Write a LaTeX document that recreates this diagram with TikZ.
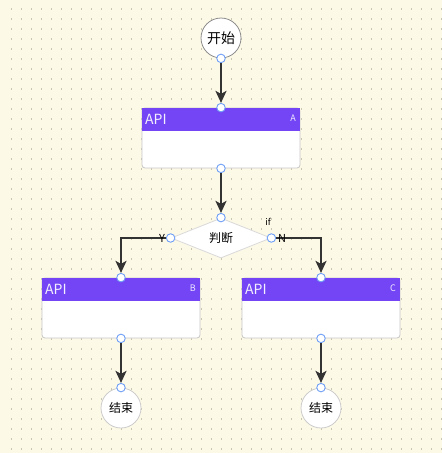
\documentclass[tikz,border=0pt]{standalone}
\usepackage{fontspec}
\setmainfont{Noto Sans CJK SC}
\usetikzlibrary{arrows.meta}
\usetikzlibrary{shapes.geometric}
\definecolor{paper}{HTML}{FDF9E7}
\definecolor{griddot}{HTML}{C9C6B4}
\definecolor{apiviolet}{HTML}{7445F5}
\definecolor{portblue}{HTML}{6C9EF6}
\definecolor{flowline}{HTML}{333333}
\tikzset{
    port/.style={circle, draw=portblue, fill=white, line width=0.9pt, minimum size=8.5pt, inner sep=0pt},
    apibox/.style={rectangle, rounded corners=3pt, draw=black!22, fill=white, line width=0.8pt, minimum width=158pt, minimum height=60pt},
    apititle/.style={text=white!92!apiviolet, font=\fontsize{14}{14}\selectfont, anchor=west},
    apitag/.style={text=white!88!apiviolet, font=\fontsize{9}{9}\selectfont, anchor=east},
    endcircle/.style={circle, draw=black!20, fill=white, line width=0.8pt, minimum size=40pt, inner sep=0pt, font=\fontsize{12}{12}\selectfont},
    flow/.style={-{Stealth[length=12pt, width=11pt, inset=3pt]}, draw=flowline, line width=2.2pt}
}

\begin{document}
\begin{tikzpicture}[x=1pt, y=-1pt]
        % background with dot grid
        \useasboundingbox (0,0) rectangle (442,453);
        \fill[paper] (0,0) rectangle (442,453);
        \foreach \i in {0,...,43}
            \foreach \j in {0,...,44}
                \fill[griddot] (11+10*\i-0.4, 9+10*\j-0.9) rectangle ++(0.8,1.8);

        % start
        \node[circle, draw=black!45, fill=white, line width=0.8pt, minimum size=40pt, inner sep=0pt,
              font=\fontsize{14}{14}\selectfont] (start) at (221,38) {开始};
        \node[port] (startout) at (start.south) {};

        % API A
        \node[apibox] (A) at (221,138) {};
        \fill[apiviolet] ([xshift=0.4pt, yshift=-0.4pt]A.north west) rectangle ([xshift=-0.4pt, yshift=-23pt]A.north east);
        \node[apititle] (Atitle) at ([xshift=0pt, yshift=-11.5pt]A.north west) {API};
        \node[apitag] (Atag) at ([xshift=-1pt, yshift=-11pt]A.north east) {A};
        \node[port] (Ain) at (A.north) {};
        \node[port] (Aout) at (A.south) {};

        % decision
        \node[diamond, draw=black!15, fill=white, line width=0.8pt, minimum width=100pt, minimum height=40pt,
              inner sep=0pt, font=\fontsize{12}{12}\selectfont] (judge) at (221,238) {判断};
        \node[port] (judgein) at (judge.north) {};
        \node[port] (judgeY) at (judge.west) {};
        \node[port] (judgeN) at (judge.east) {};
        \node[font=\fontsize{9}{9}\selectfont] (iflabel) at (268,222) {if};

        % API B
        \node[apibox] (B) at (121,308) {};
        \fill[apiviolet] ([xshift=0.4pt, yshift=-0.4pt]B.north west) rectangle ([xshift=-0.4pt, yshift=-23pt]B.north east);
        \node[apititle] (Btitle) at ([xshift=0pt, yshift=-11.5pt]B.north west) {API};
        \node[apitag] (Btag) at ([xshift=-1pt, yshift=-11pt]B.north east) {B};
        \node[port] (Bin) at (B.north) {};
        \node[port] (Bout) at (B.south) {};

        % API C
        \node[apibox] (C) at (321,308) {};
        \fill[apiviolet] ([xshift=0.4pt, yshift=-0.4pt]C.north west) rectangle ([xshift=-0.4pt, yshift=-23pt]C.north east);
        \node[apititle] (Ctitle) at ([xshift=0pt, yshift=-11.5pt]C.north west) {API};
        \node[apitag] (Ctag) at ([xshift=-1pt, yshift=-11pt]C.north east) {C};
        \node[port] (Cin) at (C.north) {};
        \node[port] (Cout) at (C.south) {};

        % ends
        \node[endcircle] (endB) at (121,408) {结束};
        \node[port] (endBin) at (endB.north) {};
        \node[endcircle] (endC) at (321,408) {结束};
        \node[port] (endCin) at (endC.north) {};

        % flow
        \draw[flow] (startout) -- (Ain);
        \draw[flow] (Aout) -- (judgein);
        \draw[flow] (judgeY) -| (Bin);
        \draw[flow] (judgeN) -| (Cin);
        \draw[flow] (Bout) -- (endBin);
        \draw[flow] (Cout) -- (endCin);

        % branch labels
        \node[font=\fontsize{11}{11}\selectfont] (ylabel) at (162,238) {Y};
        \node[font=\fontsize{11}{11}\selectfont] (nlabel) at (282,238) {N};
    \end{tikzpicture}
\end{document}
